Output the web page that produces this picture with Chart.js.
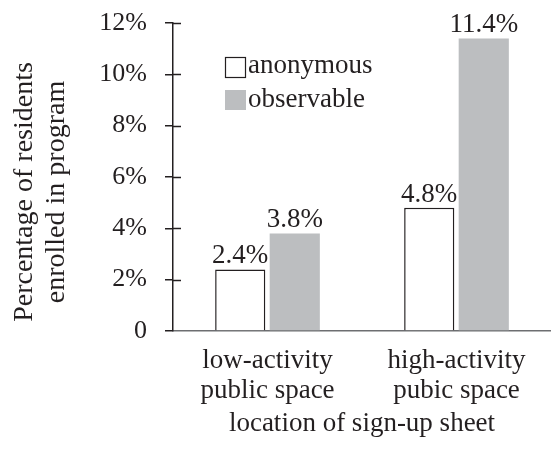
<!DOCTYPE html>
<html>
<head>
<meta charset="utf-8">
<script src="https://cdn.jsdelivr.net/npm/chart.js@4/dist/chart.umd.min.js"></script>
<style>
  html, body { margin: 0; padding: 0; background: #fff; }
  #wrap { width: 551px; height: 450px; }
</style>
</head>
<body>
<div id="wrap"><canvas id="chart" width="551" height="450"></canvas></div>
<script>
  // data
  const categories = [["low-activity", "public space"], ["high-activity", "pubic space"]];
  const seriesNames = ["anonymous", "observable"];
  const anonymous = [2.4, 4.8];
  const observable = [3.8, 11.4];
  const yTicks = [0, 2, 4, 6, 8, 10, 12];
  const yTitle = ["Percentage of residents", "enrolled in program"];
  const xTitle = "location of sign-up sheet";

  const ink = "#231f20";
  const grey = "#bcbec0";
  const serif = '"Liberation Serif", "Times New Roman", serif';

  // extra bits: inner tick halves, value labels, legend, y title
  const extras = {
    id: "extras",
    afterDatasetsDraw(chart) {
      const ctx = chart.ctx;
      const y = chart.scales.y;
      const area = chart.chartArea;
      ctx.save();
      ctx.strokeStyle = ink;
      ctx.lineWidth = 1.5;
      yTicks.forEach((v) => {
        if (v === 0) return;
        const py = Math.round(y.getPixelForValue(v)) + 0.5;
        ctx.beginPath();
        ctx.moveTo(area.left, py);
        ctx.lineTo(area.left + 8, py);
        ctx.stroke();
      });

      ctx.font = "27px " + serif;
      ctx.fillStyle = ink;
      ctx.textAlign = "center";
      ctx.textBaseline = "alphabetic";
      chart.data.datasets.forEach((ds, i) => {
        chart.getDatasetMeta(i).data.forEach((bar, j) => {
          ctx.fillText(ds.data[j] + "%", bar.x, bar.y - 6);
        });
      });

      // legend
      ctx.fillStyle = "#fff";
      ctx.fillRect(225, 57, 21, 21);
      ctx.lineWidth = 1.2;
      ctx.strokeRect(225.5, 57.5, 20, 20);
      ctx.fillStyle = grey;
      ctx.fillRect(225, 90, 21, 20);
      ctx.fillStyle = ink;
      ctx.textAlign = "left";
      ctx.fillText(seriesNames[0], 248, 73);
      ctx.fillText(seriesNames[1], 248, 107);

      // y axis title, two rotated lines
      ctx.font = "28px " + serif;
      ctx.translate(32, 192);
      ctx.rotate(-Math.PI / 2);
      ctx.textAlign = "center";
      ctx.fillText(yTitle[0], 0, 0);
      ctx.fillText(yTitle[1], 0, 32);
      ctx.restore();
    },
  };

  new Chart(document.getElementById("chart").getContext("2d"), {
    type: "bar",
    data: {
      labels: categories,
      datasets: [
        {
          label: seriesNames[0],
          data: anonymous,
          backgroundColor: "#ffffff",
          borderColor: ink,
          borderWidth: 1.5,
          borderSkipped: "bottom",
        },
        {
          label: seriesNames[1],
          data: observable,
          backgroundColor: grey,
          borderWidth: 0,
        },
      ],
    },
    options: {
      responsive: false,
      animation: false,
      events: [],
      layout: { padding: { top: 23, right: 0, bottom: 0, left: 0 } },
      datasets: { bar: { categoryPercentage: 0.577, barPercentage: 0.92 } },
      plugins: { legend: { display: false }, tooltip: { enabled: false } },
      scales: {
        x: {
          offset: true,
          grid: { display: false },
          border: { display: true, color: "#6d6e71", width: 1.5 },
          ticks: {
            color: ink,
            padding: 7,
            autoSkip: false,
            maxRotation: 0,
            font: { family: serif, size: 27, lineHeight: 1.1 },
          },
          title: {
            display: true,
            text: xTitle,
            color: ink,
            font: { family: serif, size: 27, lineHeight: 1.2 },
            padding: { top: 0, bottom: 10 },
          },
          afterFit(scale) {
            scale.height = 119;
            scale.paddingLeft = 0;
            scale.paddingRight = 0;
          },
        },
        y: {
          min: 0,
          max: 12,
          grid: {
            display: true,
            drawOnChartArea: false,
            drawTicks: true,
            tickLength: 8,
            color: ink,
            lineWidth: 1.5,
          },
          border: { display: true, color: ink, width: 1.5 },
          ticks: {
            stepSize: 2,
            color: ink,
            padding: 18,
            font: { family: serif, size: 26 },
            callback: (v) => (v === 0 ? "0" : v + "%"),
          },
          afterFit(scale) {
            scale.width = 173;
            scale.paddingTop = 0;
            scale.paddingBottom = 0;
          },
        },
      },
    },
    plugins: [extras],
  });
</script>
</body>
</html>
